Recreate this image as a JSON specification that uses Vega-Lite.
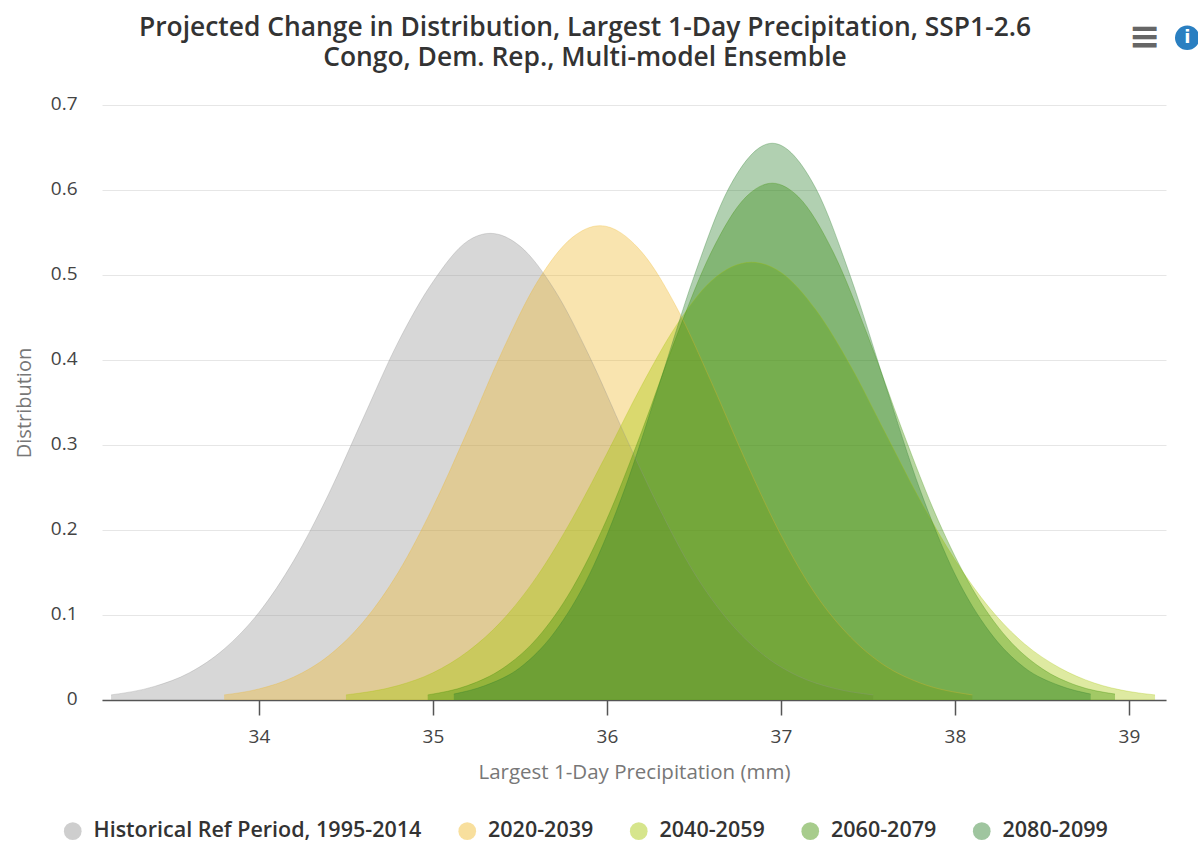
{"$schema":"https://vega.github.io/schema/vega-lite/v6.json","width":1064,"height":595,"autosize":{"type":"pad"},"padding":{"left":14,"top":15,"right":0,"bottom":0},"background":"white","title":{"text":["Projected Change in Distribution, Largest 1-Day Precipitation, SSP1-2.6","Congo, Dem. Rep., Multi-model Ensemble"],"font":"Open Sans","fontSize":26.4,"fontWeight":600,"color":"#333333","lineHeight":30,"anchor":"middle","dx":-49,"offset":-53},"config":{"view":{"stroke":null}},"datasets":{"d":[
{"s":"Historical Ref Period, 1995-2014","x":33.15,"y":0.006},{"s":"Historical Ref Period, 1995-2014","x":33.4,"y":0.016},{"s":"Historical Ref Period, 1995-2014","x":33.6,"y":0.032},{"s":"Historical Ref Period, 1995-2014","x":33.8,"y":0.06},{"s":"Historical Ref Period, 1995-2014","x":34,"y":0.103},{"s":"Historical Ref Period, 1995-2014","x":34.2,"y":0.164},{"s":"Historical Ref Period, 1995-2014","x":34.4,"y":0.242},{"s":"Historical Ref Period, 1995-2014","x":34.6,"y":0.332},{"s":"Historical Ref Period, 1995-2014","x":34.8,"y":0.421},{"s":"Historical Ref Period, 1995-2014","x":35,"y":0.492},{"s":"Historical Ref Period, 1995-2014","x":35.2,"y":0.54},{"s":"Historical Ref Period, 1995-2014","x":35.33,"y":0.549},{"s":"Historical Ref Period, 1995-2014","x":35.5,"y":0.534},{"s":"Historical Ref Period, 1995-2014","x":35.7,"y":0.482},{"s":"Historical Ref Period, 1995-2014","x":35.9,"y":0.404},{"s":"Historical Ref Period, 1995-2014","x":36.1,"y":0.313},{"s":"Historical Ref Period, 1995-2014","x":36.3,"y":0.226},{"s":"Historical Ref Period, 1995-2014","x":36.5,"y":0.15},{"s":"Historical Ref Period, 1995-2014","x":36.7,"y":0.093},{"s":"Historical Ref Period, 1995-2014","x":36.9,"y":0.053},{"s":"Historical Ref Period, 1995-2014","x":37.1,"y":0.028},{"s":"Historical Ref Period, 1995-2014","x":37.3,"y":0.014},{"s":"Historical Ref Period, 1995-2014","x":37.53,"y":0.006},
{"s":"2020-2039","x":33.8,"y":0.006},{"s":"2020-2039","x":34,"y":0.013},{"s":"2020-2039","x":34.2,"y":0.027},{"s":"2020-2039","x":34.4,"y":0.052},{"s":"2020-2039","x":34.6,"y":0.092},{"s":"2020-2039","x":34.8,"y":0.15},{"s":"2020-2039","x":35,"y":0.227},{"s":"2020-2039","x":35.2,"y":0.317},{"s":"2020-2039","x":35.4,"y":0.411},{"s":"2020-2039","x":35.6,"y":0.492},{"s":"2020-2039","x":35.8,"y":0.544},{"s":"2020-2039","x":35.96,"y":0.558},{"s":"2020-2039","x":36.2,"y":0.527},{"s":"2020-2039","x":36.4,"y":0.462},{"s":"2020-2039","x":36.6,"y":0.374},{"s":"2020-2039","x":36.8,"y":0.28},{"s":"2020-2039","x":37,"y":0.194},{"s":"2020-2039","x":37.2,"y":0.124},{"s":"2020-2039","x":37.4,"y":0.074},{"s":"2020-2039","x":37.6,"y":0.04},{"s":"2020-2039","x":37.8,"y":0.02},{"s":"2020-2039","x":38.1,"y":0.006},
{"s":"2040-2059","x":34.5,"y":0.006},{"s":"2040-2059","x":34.8,"y":0.017},{"s":"2040-2059","x":35,"y":0.032},{"s":"2040-2059","x":35.2,"y":0.057},{"s":"2040-2059","x":35.4,"y":0.094},{"s":"2040-2059","x":35.6,"y":0.146},{"s":"2040-2059","x":35.8,"y":0.213},{"s":"2040-2059","x":36,"y":0.29},{"s":"2040-2059","x":36.2,"y":0.37},{"s":"2040-2059","x":36.4,"y":0.441},{"s":"2040-2059","x":36.6,"y":0.493},{"s":"2040-2059","x":36.83,"y":0.515},{"s":"2040-2059","x":37,"y":0.503},{"s":"2040-2059","x":37.2,"y":0.459},{"s":"2040-2059","x":37.4,"y":0.393},{"s":"2040-2059","x":37.6,"y":0.314},{"s":"2040-2059","x":37.8,"y":0.235},{"s":"2040-2059","x":38,"y":0.165},{"s":"2040-2059","x":38.2,"y":0.108},{"s":"2040-2059","x":38.4,"y":0.066},{"s":"2040-2059","x":38.6,"y":0.038},{"s":"2040-2059","x":38.8,"y":0.02},{"s":"2040-2059","x":39,"y":0.01},{"s":"2040-2059","x":39.15,"y":0.006},
{"s":"2060-2079","x":34.97,"y":0.006},{"s":"2060-2079","x":35.2,"y":0.017},{"s":"2060-2079","x":35.4,"y":0.037},{"s":"2060-2079","x":35.6,"y":0.073},{"s":"2060-2079","x":35.8,"y":0.131},{"s":"2060-2079","x":36,"y":0.213},{"s":"2060-2079","x":36.2,"y":0.316},{"s":"2060-2079","x":36.4,"y":0.428},{"s":"2060-2079","x":36.6,"y":0.527},{"s":"2060-2079","x":36.8,"y":0.592},{"s":"2060-2079","x":36.95,"y":0.608},{"s":"2060-2079","x":37.1,"y":0.592},{"s":"2060-2079","x":37.3,"y":0.527},{"s":"2060-2079","x":37.5,"y":0.428},{"s":"2060-2079","x":37.7,"y":0.316},{"s":"2060-2079","x":37.9,"y":0.213},{"s":"2060-2079","x":38.1,"y":0.131},{"s":"2060-2079","x":38.3,"y":0.073},{"s":"2060-2079","x":38.5,"y":0.037},{"s":"2060-2079","x":38.7,"y":0.017},{"s":"2060-2079","x":38.92,"y":0.007},
{"s":"2080-2099","x":35.12,"y":0.007},{"s":"2080-2099","x":35.3,"y":0.017},{"s":"2080-2099","x":35.5,"y":0.038},{"s":"2080-2099","x":35.7,"y":0.08},{"s":"2080-2099","x":35.9,"y":0.148},{"s":"2080-2099","x":36.1,"y":0.247},{"s":"2080-2099","x":36.3,"y":0.371},{"s":"2080-2099","x":36.5,"y":0.498},{"s":"2080-2099","x":36.7,"y":0.602},{"s":"2080-2099","x":36.95,"y":0.655},{"s":"2080-2099","x":37.2,"y":0.602},{"s":"2080-2099","x":37.4,"y":0.498},{"s":"2080-2099","x":37.6,"y":0.371},{"s":"2080-2099","x":37.8,"y":0.247},{"s":"2080-2099","x":38,"y":0.148},{"s":"2080-2099","x":38.2,"y":0.08},{"s":"2080-2099","x":38.4,"y":0.038},{"s":"2080-2099","x":38.6,"y":0.017},{"s":"2080-2099","x":38.78,"y":0.007}
]},"data":{"name":"d"},
"layer":[
{"mark":{"type":"area","interpolate":"monotone","opacity":0.37,"line":{"strokeWidth":1,"opacity":0.3}},
"encoding":{"x":{"field":"x","type":"quantitative","scale":{"domain":[33.098,39.213],"nice":false,"zero":false},"axis":{"values":[34,35,36,37,38,39],"format":"d","title":"Largest 1-Day Precipitation (mm)","titleFont":"Open Sans","titleFontSize":20.5,"titleFontWeight":"normal","titleColor":"#777777","titlePadding":16,"labelFont":"Open Sans","labelFontSize":19,"labelColor":"#444444","labelPadding":12,"domainColor":"#555555","domainWidth":1.5,"tickColor":"#555555","tickWidth":1.5,"tickSize":15,"grid":false}},
"y":{"field":"y","type":"quantitative","stack":null,"scale":{"domain":[0,0.7],"nice":false},"axis":{"values":[0,0.1,0.2,0.3,0.4,0.5,0.6,0.7],"format":"~g","title":"Distribution","titleFont":"Open Sans","titleFontSize":20,"titleFontWeight":"normal","titleColor":"#777777","titlePadding":16,"labelFont":"Open Sans","labelFontSize":19,"labelColor":"#444444","labelPadding":25,"labelOffset":-2,"domain":false,"ticks":false,"grid":true,"gridColor":"#e6e6e6"}},
"color":{"field":"s","type":"nominal","sort":["Historical Ref Period, 1995-2014","2020-2039","2040-2059","2060-2079","2080-2099"],"scale":{"domain":["Historical Ref Period, 1995-2014","2020-2039","2040-2059","2060-2079","2080-2099"],"range":["#929292","#f0b725","#a5c500","#3c8f00","#2b7f2b"]},"legend":{"orient":"none","legendX":-40,"legendY":715,"direction":"horizontal","columns":5,"title":null,"symbolType":"circle","symbolSize":314,"symbolOpacity":0.45,"symbolStrokeWidth":0,"labelFont":"Open Sans","labelFontSize":21.5,"labelFontWeight":600,"labelColor":"#333333","labelOffset":10,"columnPadding":34.5,"labelLimit":400}}}},
{"data":{"values":[{"icon":"menu"}]},"mark":{"type":"text","text":"≡","font":"DejaVu Sans","fontSize":38,"fontWeight":"bold","color":"#666666","clip":false},"encoding":{"x":{"datum":39.09,"type":"quantitative"},"y":{"datum":0.779,"type":"quantitative"}}},
{"data":{"values":[{"icon":"info"}]},"mark":{"type":"point","filled":true,"shape":"circle","size":600,"opacity":1,"color":"#2a7fc1","clip":false},"encoding":{"x":{"datum":39.335,"type":"quantitative"},"y":{"datum":0.779,"type":"quantitative"}}},
{"data":{"values":[{"icon":"info"}]},"mark":{"type":"text","text":"i","font":"DejaVu Sans","fontSize":18,"fontWeight":"bold","color":"#ffffff","clip":false},"encoding":{"x":{"datum":39.335,"type":"quantitative"},"y":{"datum":0.779,"type":"quantitative"}}}
]}
